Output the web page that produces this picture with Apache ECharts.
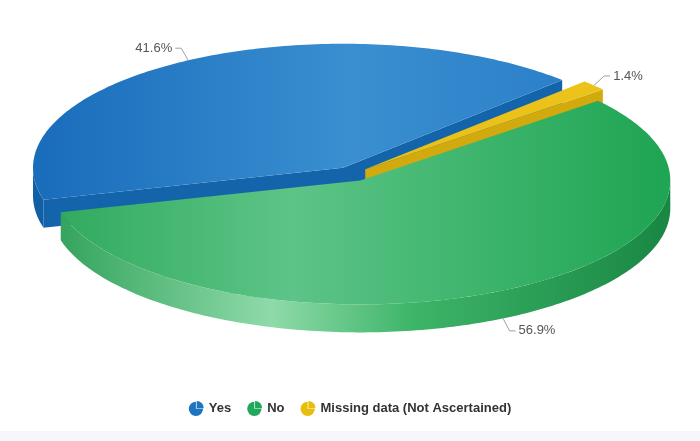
<!DOCTYPE html>
<html>
<head>
<meta charset="utf-8">
<script src="https://cdn.jsdelivr.net/npm/echarts@6/dist/echarts.min.js"></script>
<style>
  html, body { margin: 0; padding: 0; background: #fff; }
  #chart { width: 700px; height: 441px; }
</style>
</head>
<body>
<div id="chart"></div>
<script>
// data
var names = ['Yes', 'No', 'Missing data (Not Ascertained)'];
var values = [41.6, 56.9, 1.4];

// colours: legend, top face gradient, wall gradient, cut face
var legendColors = ['#1f74c2', '#22a85a', '#e9bd0e'];
var topStops = [
  [[0, '#1a6dbb'], [0.5, '#3a8fd1'], [1, '#2479c4']],
  [[0, '#2ea85c'], [0.4, '#5dc487'], [1, '#1fa553']],
  [[0, '#e6bb10'], [1, '#ecc41c']]
];
var wallStops = [
  [[0, '#125fa6'], [1, '#0f5a9e']],
  [[0, '#2c9f57'], [0.37, '#8fdaa9'], [0.6, '#3db468'], [1, '#1a8845']],
  [[0, '#c9a00c'], [1, '#c9a00c']]
];
var faceColors = ['#1464ac', '#1f8f4b', '#d2aa0d'];

// pie geometry (pixels)
var CX = 352, CY = 174, RX = 310, RY = 124, DEPTH = 28, EXPLODE = 18, START = 315;

function rad(d) { return d * Math.PI / 180; }
function pt(c, th, dy) {
  return [c[0] + RX * Math.cos(rad(th)), c[1] + RY * Math.sin(rad(th)) + (dy || 0)];
}
function arc(c, s, e, dy) {
  var pts = [];
  var n = Math.max(2, Math.ceil(e - s));
  for (var k = 0; k <= n; k++) pts.push(pt(c, s + (e - s) * k / n, dy));
  return pts;
}

// slices go anticlockwise on screen from START
var total = values.reduce(function (a, b) { return a + b; }, 0);
var slices = [];
var a = START;
for (var i = 0; i < values.length; i++) {
  var span = values[i] / total * 360;
  var s = a - span, e = a;
  a = s;
  var mid = (s + e) / 2;
  var c = [CX + EXPLODE * Math.cos(rad(mid)), CY + EXPLODE * 0.4 * Math.sin(rad(mid))];
  slices.push({ s: s, e: e, mid: mid, c: c });
}

function grad(stops) {
  return new echarts.graphic.LinearGradient(CX - RX, 0, CX + RX, 0,
    stops.map(function (st) { return { offset: st[0], color: st[1] }; }), true);
}

function makeRender(i) {
  return function (params, api) {
    var sl = slices[i], c = sl.c, kids = [];
    // cut faces that look towards the viewer
    if (Math.cos(rad(sl.s)) < 0) {
      var p = pt(c, sl.s);
      kids.push({ type: 'polygon', shape: { points: [c, p, [p[0], p[1] + DEPTH], [c[0], c[1] + DEPTH]] },
        style: { fill: faceColors[i] } });
    }
    if (Math.cos(rad(sl.e)) > 0) {
      var q = pt(c, sl.e);
      kids.push({ type: 'polygon', shape: { points: [c, q, [q[0], q[1] + DEPTH], [c[0], c[1] + DEPTH]] },
        style: { fill: faceColors[i] } });
    }
    // outer wall on the front half
    for (var k = -1; k <= 2; k++) {
      var lo = Math.max(sl.s, k * 360), hi = Math.min(sl.e, k * 360 + 180);
      if (hi > lo) {
        var w = arc(c, lo, hi, 0).concat(arc(c, lo, hi, DEPTH).reverse());
        kids.push({ type: 'polygon', shape: { points: w }, style: { fill: grad(wallStops[i]) } });
      }
    }
    // top
    kids.push({ type: 'polygon', shape: { points: [c].concat(arc(c, sl.s, sl.e, 0)) },
      style: { fill: grad(topStops[i]) } });
    // label with connector
    var ct = Math.cos(rad(sl.mid)), st = Math.sin(rad(sl.mid));
    var anc = pt(c, sl.mid, st > 0 ? DEPTH : 0);
    var bend = [anc[0] + ct * 14, anc[1] + st * 14];
    var dir = ct >= 0 ? 1 : -1;
    var end = [bend[0] + dir * 6, bend[1]];
    kids.push({ type: 'polyline', shape: { points: [anc, bend, end] },
      style: { stroke: '#a0a0a0', lineWidth: 1, fill: null } });
    kids.push({ type: 'text', style: {
      text: values[i] + '%', x: end[0] + dir * 3, y: end[1],
      fill: '#555', font: '13px "Liberation Sans", Arial, sans-serif',
      align: dir > 0 ? 'left' : 'right', verticalAlign: 'middle' } });
    return { type: 'group', children: kids };
  };
}

// back slices first
var order = slices.map(function (sl, i) { return [Math.sin(rad(sl.mid)), i]; })
  .sort(function (x, y) { return x[0] - y[0]; });
var zOf = [];
order.forEach(function (o, r) { zOf[o[1]] = 2 + r; });

var series = names.map(function (n, i) {
  return {
    type: 'custom',
    name: n,
    coordinateSystem: 'none',
    z: zOf[i],
    itemStyle: { color: legendColors[i] },
    data: [[values[i]]],
    renderItem: makeRender(i),
    silent: true
  };
});

var pieIcon = 'path://M10,12 L10,2 A10,10 0 1,0 20,12 Z M11,11 L11,1 A10,10 0 0,1 21,11 Z';

var chart = echarts.init(document.getElementById('chart'));
chart.setOption({
  animation: false,
  backgroundColor: '#ffffff',
  graphic: [{
    type: 'rect', left: 0, top: 431,
    shape: { width: 700, height: 10 },
    style: { fill: '#f5f7fa' }, silent: true
  }],
  legend: {
    data: names,
    top: 396,
    left: 'center',
    icon: pieIcon,
    itemWidth: 15,
    itemHeight: 15,
    itemGap: 16,
    textStyle: { fontSize: 13, fontWeight: 'bold', color: '#333', fontFamily: '"Liberation Sans", Arial, sans-serif' }
  },
  series: series
});
</script>
</body>
</html>
